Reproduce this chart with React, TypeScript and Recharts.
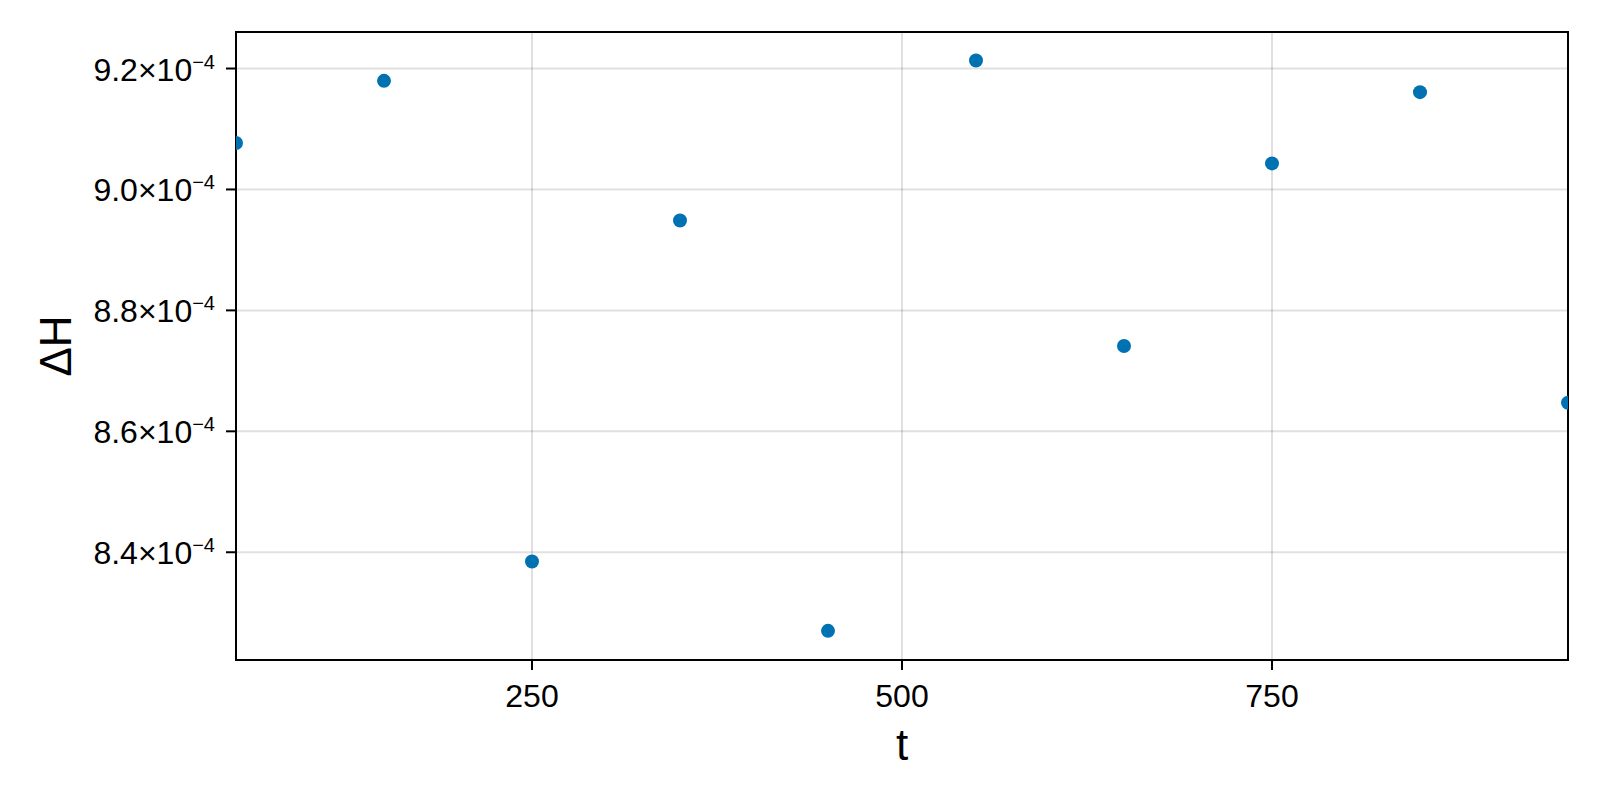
import React from 'react';
import { ScatterChart, Scatter, XAxis, YAxis, CartesianGrid, ReferenceArea } from 'recharts';

const tValues = [50, 150, 250, 350, 450, 550, 650, 750, 850, 950];
const dhValues = [
  9.0768e-4, 9.1796e-4, 8.3848e-4, 8.9486e-4, 8.27e-4,
  9.2133e-4, 8.741e-4, 9.0431e-4, 9.1609e-4, 8.6473e-4,
];
const xTicks = [250, 500, 750];
const yTicks = [8.4e-4, 8.6e-4, 8.8e-4, 9.0e-4, 9.2e-4];
const xDomain = [50, 950];
const yDomain = [8.2218e-4, 9.2604e-4];
const xLabel = 't';
const yLabel = 'ΔH';

const data = tValues.map((t, i) => ({ t, dh: dhValues[i] }));

const FONT = '"Liberation Sans", Arial, Helvetica, sans-serif';
const DOT = '#0072B2';

const YTick = (props: any) => {
  const { x, y, payload } = props;
  const m = (payload.value * 1e4).toFixed(1);
  return (
    <text x={x} y={y} dy={12} textAnchor="end" fontFamily={FONT} fontSize={32} fill="#000">
      {m}×10<tspan fontSize={20} dy={-12}>−4</tspan>
    </text>
  );
};

const XTick = (props: any) => {
  const { x, y, payload } = props;
  return (
    <text x={x} y={y} dy={23} textAnchor="middle" fontFamily={FONT} fontSize={32} fill="#000">
      {payload.value}
    </text>
  );
};

const YLabel = (props: any) => {
  const vb = props.viewBox || { x: 0, y: 32, width: 236, height: 628 };
  const cx = vb.x + 56;
  const cy = vb.y + vb.height / 2;
  return (
    <text
      x={cx}
      y={cy}
      dy={15}
      textAnchor="middle"
      transform={`rotate(-90, ${cx}, ${cy})`}
      fontFamily={FONT}
      fontSize={44}
      fill="#000"
    >
      {yLabel}
    </text>
  );
};

const XLabel = (props: any) => {
  const vb = props.viewBox || { x: 236, y: 660, width: 1332, height: 140 };
  const cx = vb.x + vb.width / 2;
  return (
    <text x={cx} y={vb.y + 100} textAnchor="middle" fontFamily={FONT} fontSize={44} fill="#000">
      {xLabel}
    </text>
  );
};

const Dot = (props: any) => {
  const { cx, cy } = props;
  if (cx == null || cy == null) return null;
  return <circle cx={cx} cy={cy} r={7} fill={DOT} />;
};

export default function App() {
  return (
    <div style={{ position: 'absolute', left: 0, top: 0, width: 1600, height: 800, background: '#fff' }}>
      <ScatterChart
        width={1600}
        height={800}
        margin={{ top: 32, right: 32, bottom: 0, left: 0 }}
      >
        <CartesianGrid stroke="#000" strokeOpacity={0.12} strokeWidth={2} />
        <XAxis
          type="number"
          dataKey="t"
          domain={xDomain}
          ticks={xTicks}
          allowDataOverflow
          height={140}
          axisLine={false}
          tickLine={{ stroke: '#000', strokeWidth: 2 }}
          tickSize={10}
          tickMargin={14}
          tick={<XTick />}
          label={<XLabel />}
        />
        <YAxis
          type="number"
          dataKey="dh"
          domain={yDomain}
          ticks={yTicks}
          allowDataOverflow
          width={236}
          axisLine={false}
          tickLine={{ stroke: '#000', strokeWidth: 2 }}
          tickSize={10}
          tickMargin={11}
          tick={<YTick />}
          label={<YLabel />}
        />
        <Scatter data={data} fill={DOT} shape={<Dot />} isAnimationActive={false} />
        <ReferenceArea
          x1={xDomain[0]}
          x2={xDomain[1]}
          y1={yDomain[0]}
          y2={yDomain[1]}
          fill="none"
          stroke="#000"
          strokeWidth={2}
          ifOverflow="visible"
        />
      </ScatterChart>
    </div>
  );
}
